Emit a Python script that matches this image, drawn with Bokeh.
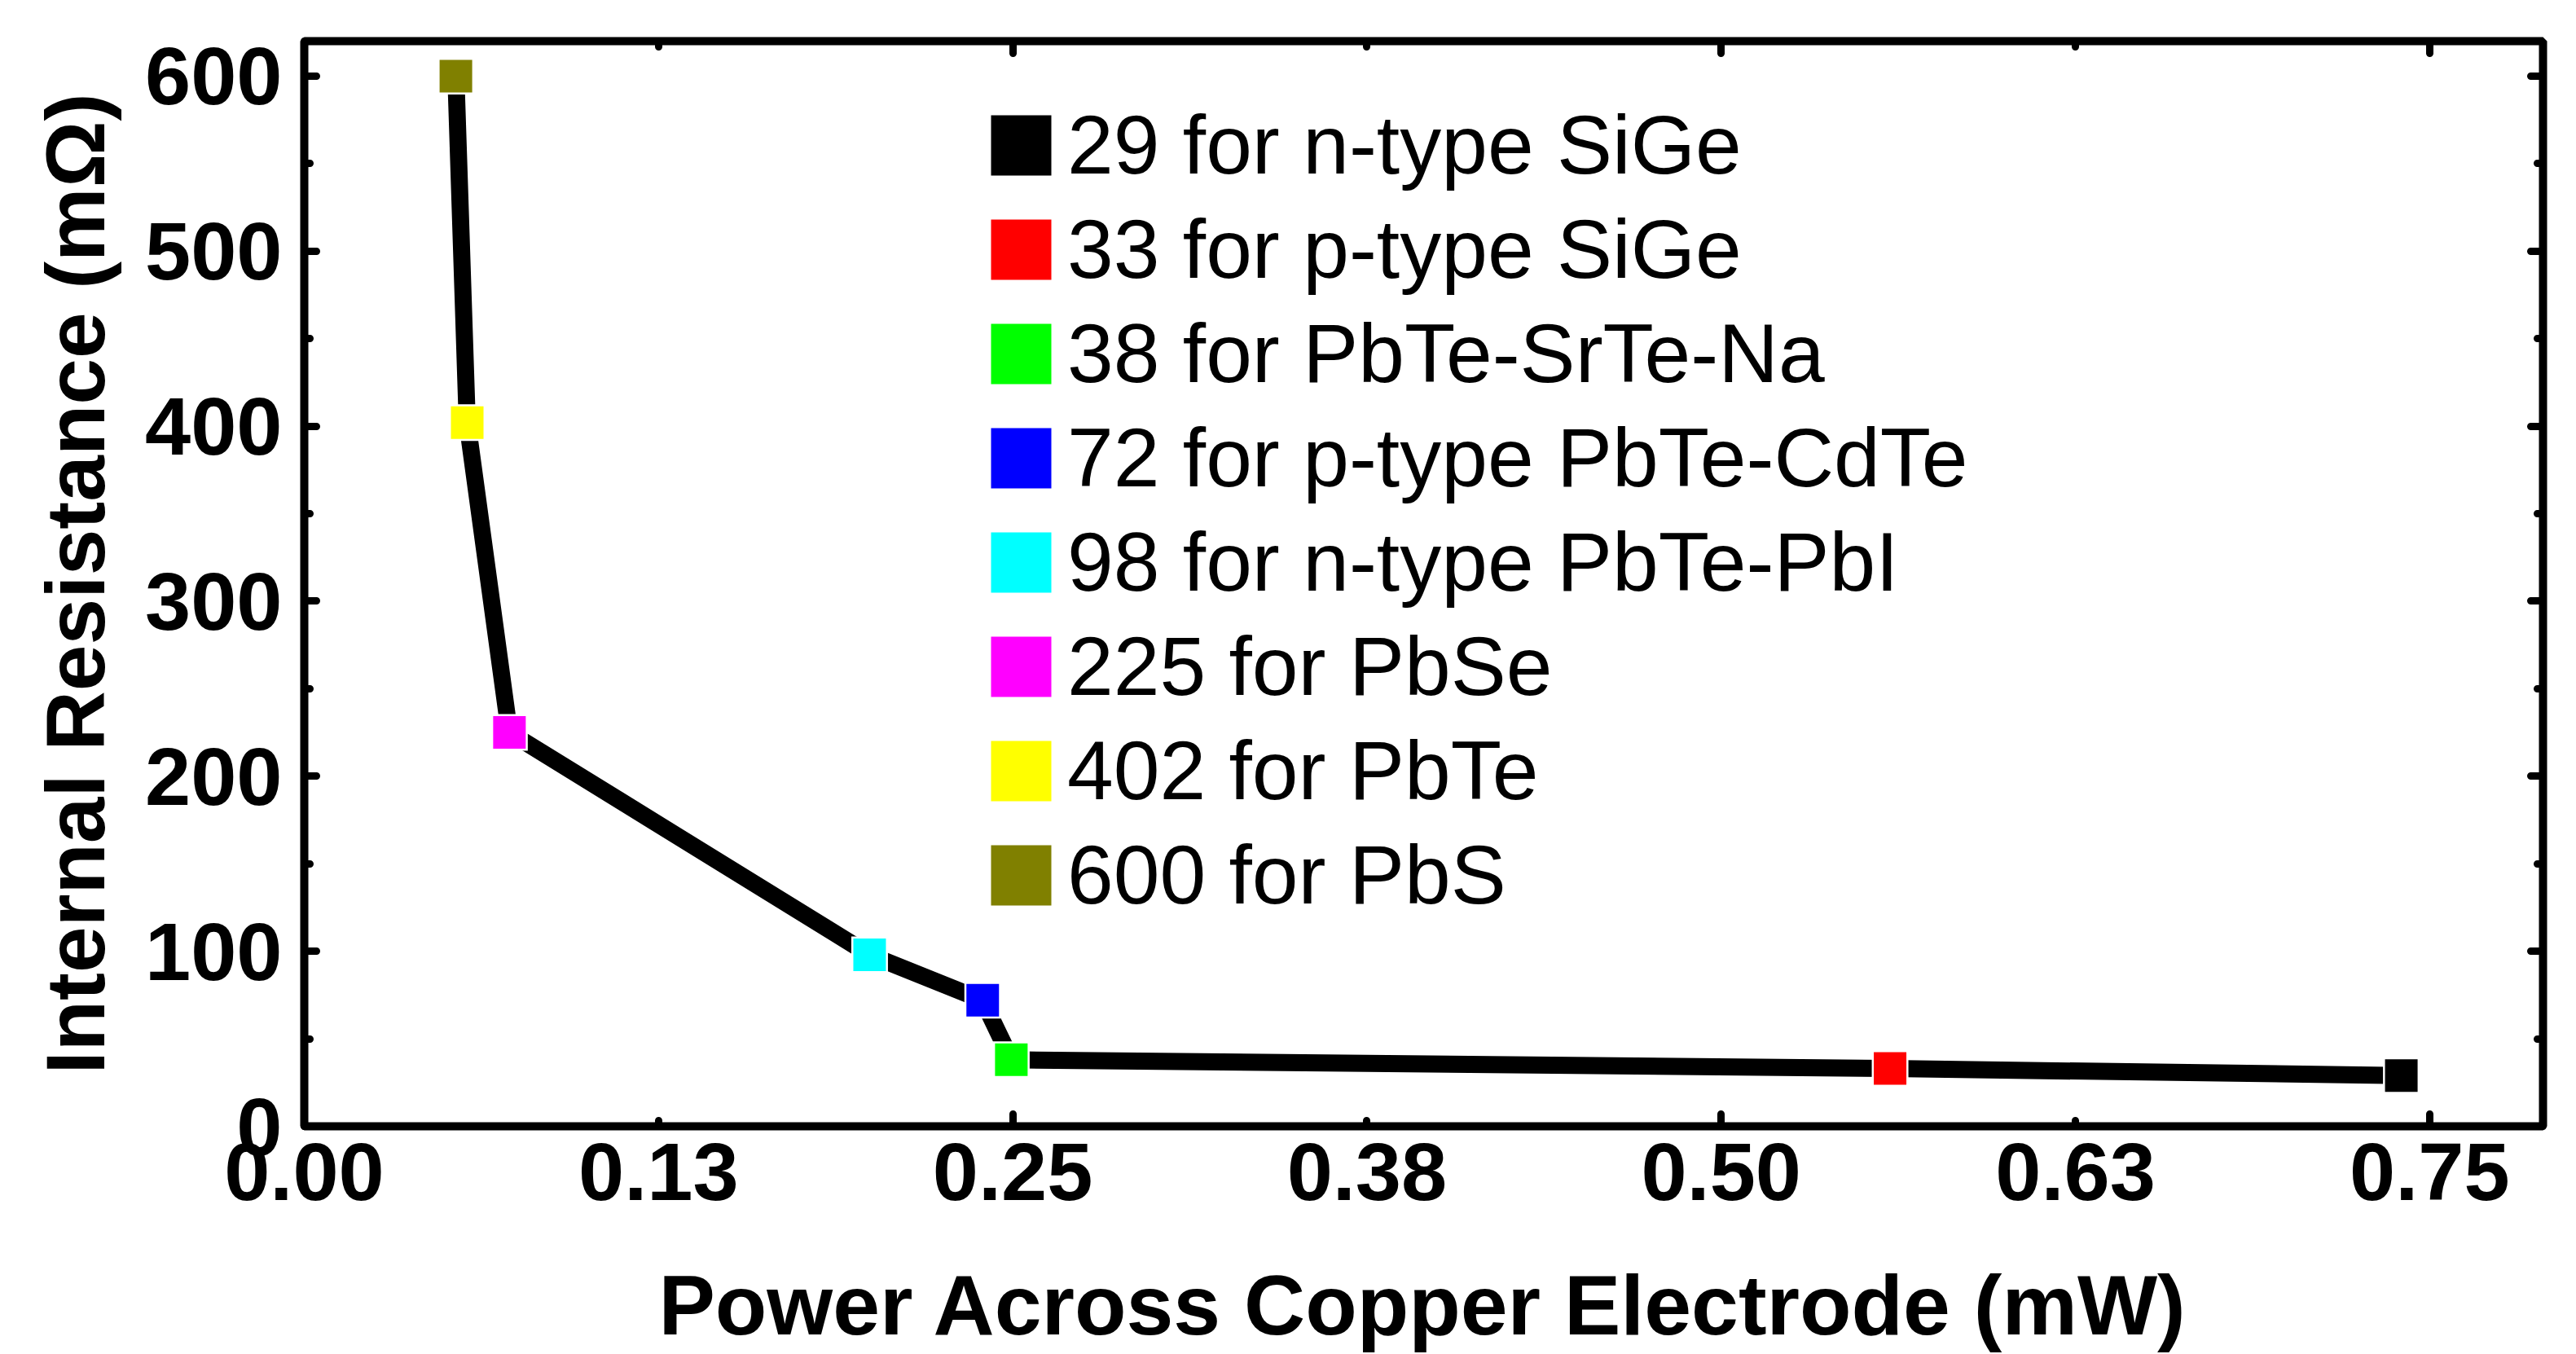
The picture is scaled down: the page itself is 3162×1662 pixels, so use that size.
from bokeh.plotting import figure
from bokeh.models import (ColumnDataSource, Range1d, LinearAxis, FixedTicker,
                          Legend, LegendItem, CustomJSTickFormatter)
from bokeh.embed import file_html
from bokeh.resources import INLINE

# ---- data ----
materials = ["n-type SiGe", "p-type SiGe", "PbTe-SrTe-Na", "p-type PbTe-CdTe",
             "n-type PbTe-PbI", "PbSe", "PbTe", "PbS"]
resistance = [29, 33, 38, 72, 98, 225, 402, 600]          # mOhm
power = [0.740, 0.5596, 0.2495, 0.2394, 0.1995, 0.0724, 0.0575, 0.0535]  # mW
colors = ["#000000", "#FF0000", "#00FF00", "#0000FF", "#00FFFF",
          "#FF00FF", "#FFFF00", "#808000"]
labels = [f"{r} for {m}" for r, m in zip(resistance, materials)]

x_ticks = [0.0, 0.125, 0.25, 0.375, 0.5, 0.625, 0.75]
x_tick_labels = ["0.00", "0.13", "0.25", "0.38", "0.50", "0.63", "0.75"]
x_major = [0.0, 0.25, 0.5, 0.75]
x_minor = [0.125, 0.375, 0.625]
y_ticks = [0, 100, 200, 300, 400, 500, 600]
y_minor = [50, 150, 250, 350, 450, 550]

FONT = "Liberation Sans"

p = figure(width=3162, height=1662, x_range=Range1d(0, 0.79), y_range=Range1d(0, 620),
           output_backend="svg", toolbar_location=None,
           min_border_left=373, min_border_right=41, min_border_top=50, min_border_bottom=278)
p.grid.visible = False
p.outline_line_color = "black"
p.outline_line_width = 10

blank = CustomJSTickFormatter(code="return '';")


def style_ticks(ax):
    ax.axis_line_color = None
    ax.major_tick_in = 15
    ax.major_tick_out = 0
    ax.minor_tick_in = 7
    ax.minor_tick_out = 0
    ax.major_tick_line_width = 9
    ax.minor_tick_line_width = 9
    ax.major_tick_line_cap = "round"
    ax.minor_tick_line_cap = "round"
    ax.major_tick_line_color = "black"
    ax.minor_tick_line_color = "black"


def no_labels(ax):
    ax.formatter = blank
    ax.major_label_standoff = 0
    ax.major_label_text_font_size = "0px"


# bottom tick axis (major every 0.25, minor every 0.125, no labels)
xa = p.xaxis[0]
xa.ticker = FixedTicker(ticks=x_major, minor_ticks=x_minor)
style_ticks(xa)
no_labels(xa)

# bottom label axis (labels at every 0.125, ticks hidden)
xl = LinearAxis(ticker=FixedTicker(ticks=x_ticks, minor_ticks=x_minor),
                formatter=CustomJSTickFormatter(
                    args=dict(tv=x_ticks, tl=x_tick_labels),
                    code="const i = tv.indexOf(tick); return i >= 0 ? tl[i] : '';"))
xl.axis_line_color = None
xl.major_tick_line_color = None
xl.minor_tick_line_color = None
xl.major_tick_in = 0
xl.major_tick_out = 0
xl.minor_tick_in = 0
xl.minor_tick_out = 0
xl.major_label_standoff = 20
xl.major_label_text_font = FONT
xl.major_label_text_font_style = "bold"
xl.major_label_text_font_size = "101px"
xl.major_label_text_color = "black"
xl.axis_label = "Power Across Copper Electrode (mW)"
xl.axis_label_text_font = FONT
xl.axis_label_text_font_style = "bold"
xl.axis_label_text_font_size = "104px"
xl.axis_label_text_color = "black"
xl.axis_label_standoff = 68
p.add_layout(xl, "below")

# left axis
ya = p.yaxis[0]
ya.ticker = FixedTicker(ticks=y_ticks, minor_ticks=y_minor)
style_ticks(ya)
ya.major_label_standoff = 27
ya.major_label_text_font = FONT
ya.major_label_text_font_style = "bold"
ya.major_label_text_font_size = "101px"
ya.major_label_text_color = "black"
ya.axis_label = "Internal Resistance (mΩ)"
ya.axis_label_text_font = FONT
ya.axis_label_text_font_style = "bold"
ya.axis_label_text_font_size = "102px"
ya.axis_label_text_color = "black"
ya.axis_label_standoff = 25

# top & right mirrored ticks (no labels)
top = LinearAxis(ticker=FixedTicker(ticks=x_major, minor_ticks=x_minor))
style_ticks(top)
no_labels(top)
p.add_layout(top, "above")

right = LinearAxis(ticker=FixedTicker(ticks=y_ticks, minor_ticks=y_minor))
style_ticks(right)
no_labels(right)
p.add_layout(right, "right")

# data
src = ColumnDataSource(dict(x=power, y=resistance, color=colors, label=labels))
p.line("x", "y", source=src, line_width=21, line_color="black",
       line_cap="round", line_join="round")
p.scatter("x", "y", source=src, marker="square", size=45,
          fill_color="white", line_color=None)
r = p.scatter("x", "y", source=src, marker="square", size=6,
              fill_color="color", line_color="color", line_width=34, line_join="miter")

items = [LegendItem(label=labels[i], renderers=[r], index=i) for i in range(len(labels))]
legend = Legend(items=items, location=(830, 248), glyph_width=100, glyph_height=120,
                label_height=120, spacing=8, padding=0, margin=0, label_standoff=7,
                border_line_color=None, background_fill_alpha=0,
                label_text_font=FONT, label_text_font_size="102px", label_text_color="black")
p.add_layout(legend)

open("out.html", "w").write(file_html(p, INLINE))
